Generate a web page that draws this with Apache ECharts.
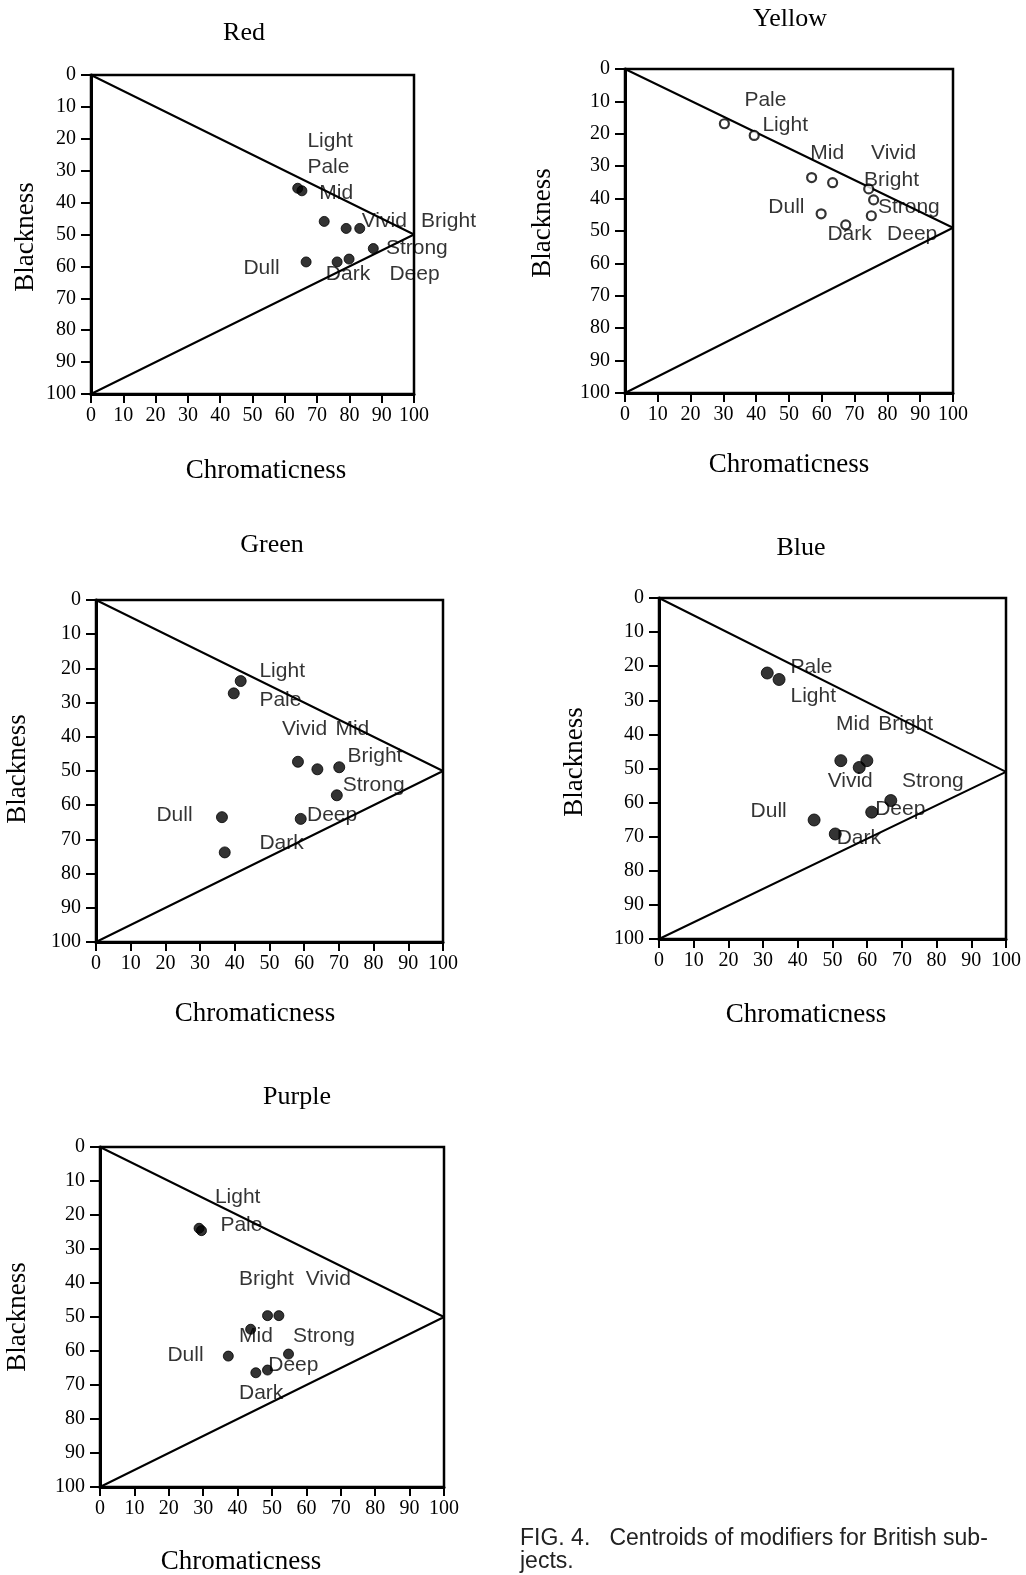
<!DOCTYPE html>
<html>
<head>
<meta charset="utf-8">
<script src="https://cdn.jsdelivr.net/npm/echarts@6/dist/echarts.min.js"></script>
<style>
  html, body { margin: 0; padding: 0; background: #fff; }
  #main { width: 1026px; height: 1575px; }
</style>
</head>
<body>
<div id="main"></div>
<script>
  // tick labels (both axes run 0..100 in steps of 10)
  var xTicks = [0, 10, 20, 30, 40, 50, 60, 70, 80, 90, 100];
  var yTicks = [0, 10, 20, 30, 40, 50, 60, 70, 80, 90, 100];

  var panelNames = ['Red', 'Yellow', 'Green', 'Blue', 'Purple'];
  // blackness at the right-hand apex of the triangle, read per panel
  var apexBlack = [50, 49, 50, 51, 50];

  // centroids: chromaticness / blackness
  var redChroma = [64.0, 65.3, 72.2, 79.0, 83.2, 87.4, 66.6, 76.2, 79.9];
  var redBlack = [35.5, 36.3, 45.9, 48.1, 48.1, 54.4, 58.6, 58.6, 57.7];
  var redTags = ['Light', 'Pale', 'Mid', 'Vivid', 'Bright', 'Strong', 'Dull', 'Dark', 'Deep'];
  var redTagX = [67.0, 67.0, 70.7, 83.8, 102.2, 91.3, 47.2, 72.7, 92.4];
  var redTagY = [20.6, 29.0, 37.1, 45.7, 45.7, 54.3, 60.5, 62.4, 62.4];

  var yellowChroma = [30.3, 39.4, 56.9, 63.3, 74.3, 75.8, 59.8, 67.3, 75.1];
  var yellowBlack = [16.9, 20.5, 33.5, 35.1, 37.0, 40.4, 44.7, 48.1, 45.3];
  var yellowTags = ['Pale', 'Light', 'Mid', 'Vivid', 'Bright', 'Strong', 'Dull', 'Dark', 'Deep'];
  var yellowTagX = [36.4, 41.9, 56.5, 75.0, 72.9, 77.1, 43.7, 61.7, 79.9];
  var yellowTagY = [9.5, 17.5, 26.0, 26.0, 34.2, 42.8, 42.7, 50.9, 50.9];

  var greenChroma = [41.7, 39.7, 58.2, 63.8, 70.1, 69.4, 36.3, 59.0, 37.1];
  var greenBlack = [23.7, 27.3, 47.3, 49.5, 48.9, 57.1, 63.5, 64.0, 73.8];
  var greenTags = ['Light', 'Pale', 'Vivid', 'Mid', 'Bright', 'Strong', 'Dull', 'Deep', 'Dark'];
  var greenTagX = [47.1, 47.1, 53.6, 69.0, 72.5, 71.1, 17.4, 60.8, 47.1];
  var greenTagY = [20.9, 29.4, 37.7, 37.7, 45.8, 54.2, 62.8, 62.8, 71.1];

  var blueChroma = [31.2, 34.6, 52.4, 59.9, 57.7, 66.8, 61.3, 44.7, 50.8];
  var blueBlack = [22.0, 23.9, 47.7, 47.7, 49.7, 59.4, 62.8, 65.1, 69.2];
  var blueTags = ['Pale', 'Light', 'Mid', 'Bright', 'Vivid', 'Strong', 'Dull', 'Deep', 'Dark'];
  var blueTagX = [37.9, 37.9, 51.0, 63.2, 48.6, 70.0, 26.4, 62.3, 51.2];
  var blueTagY = [20.4, 28.8, 37.1, 37.1, 53.7, 53.7, 62.6, 62.0, 70.4];

  var purpleChroma = [28.8, 29.5, 48.7, 52.0, 43.8, 54.8, 37.3, 45.3, 48.7];
  var purpleBlack = [23.9, 24.6, 49.6, 49.6, 53.6, 60.9, 61.5, 66.4, 65.6];
  var purpleTags = ['Light', 'Pale', 'Bright', 'Vivid', 'Mid', 'Strong', 'Dull', 'Deep', 'Dark'];
  var purpleTagX = [33.4, 35.0, 40.4, 59.8, 40.4, 56.1, 19.6, 48.9, 40.4];
  var purpleTagY = [14.7, 23.1, 38.8, 38.8, 55.6, 55.6, 61.2, 64.1, 72.5];

  var panels = [
    {chroma: redChroma, black: redBlack, tags: redTags, tagX: redTagX, tagY: redTagY},
    {chroma: yellowChroma, black: yellowBlack, tags: yellowTags, tagX: yellowTagX, tagY: yellowTagY},
    {chroma: greenChroma, black: greenBlack, tags: greenTags, tagX: greenTagX, tagY: greenTagY},
    {chroma: blueChroma, black: blueBlack, tags: blueTags, tagX: blueTagX, tagY: blueTagY},
    {chroma: purpleChroma, black: purpleBlack, tags: purpleTags, tagX: purpleTagX, tagY: purpleTagY}
  ];

  // layout of each panel (px)
  var layout = [
    {left: 91, top: 75, width: 323, height: 319, title: [244, 33], xName: [266, 471], yName: [26, 237], dot: 10},
    {left: 625, top: 69, width: 328, height: 324, title: [790, 19], xName: [789, 465], yName: [543, 223], dot: 9},
    {left: 96, top: 600, width: 347, height: 342, title: [272, 545], xName: [255, 1014], yName: [18, 769], dot: 11},
    {left: 659, top: 598, width: 347, height: 341, title: [801, 548], xName: [806, 1015], yName: [575, 762], dot: 12},
    {left: 100, top: 1147, width: 344, height: 340, title: [297, 1097], xName: [241, 1562], yName: [18, 1317], dot: 10}
  ];

  var serif = "'Liberation Serif', 'DejaVu Serif', serif";
  var sans = "'Liberation Sans', Arial, sans-serif";

  var chart = echarts.init(document.getElementById('main'), null, {renderer: 'canvas'});

  var grids = [], xAxes = [], yAxes = [], series = [], graphics = [];

  panels.forEach(function (p, i) {
    var L = layout[i];
    grids.push({
      left: L.left, top: L.top, width: L.width, height: L.height,
      show: true, borderColor: '#000', borderWidth: 2.5, backgroundColor: 'transparent'
    });
    xAxes.push({
      gridIndex: i, type: 'value', min: xTicks[0], max: xTicks[xTicks.length - 1], interval: 10,
      splitLine: {show: false},
      axisLine: {onZero: false, lineStyle: {color: '#000', width: 3}},
      axisTick: {length: 9, lineStyle: {color: '#000', width: 2}},
      axisLabel: {color: '#000', fontFamily: serif, fontSize: 20, margin: 12}
    });
    yAxes.push({
      gridIndex: i, type: 'value', inverse: true, min: yTicks[0], max: yTicks[yTicks.length - 1], interval: 10,
      splitLine: {show: false},
      axisLine: {onZero: false, lineStyle: {color: '#000', width: 3}},
      axisTick: {length: 10, lineStyle: {color: '#000', width: 2}},
      axisLabel: {color: '#000', fontFamily: serif, fontSize: 20, margin: 15}
    });

    // NCS triangle outline
    series.push({
      type: 'line', xAxisIndex: i, yAxisIndex: i, symbol: 'none', silent: true,
      lineStyle: {color: '#000', width: 2},
      data: [[0, 0], [100, apexBlack[i]], [0, 100]]
    });

    // centroids
    var pts = p.chroma.map(function (c, k) { return [c, p.black[k]]; });
    series.push({
      type: 'scatter', xAxisIndex: i, yAxisIndex: i, symbol: 'circle', symbolSize: L.dot,
      itemStyle: i === 1 ? {color: '#fff', borderColor: '#000', borderWidth: 2.2} : {color: '#000', borderColor: '#000', borderWidth: 1},
      data: pts, z: 3
    });

    // modifier names
    var tagPts = p.tags.map(function (t, k) { return {name: t, value: [p.tagX[k], p.tagY[k]]}; });
    series.push({
      type: 'scatter', xAxisIndex: i, yAxisIndex: i, symbolSize: 0, clip: false, silent: true,
      data: tagPts, z: 4,
      label: {
        show: true, position: 'right', distance: 0, formatter: '{b}',
        color: '#000', fontFamily: sans, fontSize: 21
      }
    });

    graphics.push({
      type: 'text', x: L.title[0], y: L.title[1],
      style: {text: panelNames[i], font: '26px ' + serif, fill: '#000', align: 'center', verticalAlign: 'middle', textAlign: 'center', textVerticalAlign: 'middle'}
    });
    graphics.push({
      type: 'text', x: L.xName[0], y: L.xName[1],
      style: {text: 'Chromaticness', font: '27px ' + serif, fill: '#000', align: 'center', verticalAlign: 'middle', textAlign: 'center', textVerticalAlign: 'middle'}
    });
    graphics.push({
      type: 'text', x: L.yName[0], y: L.yName[1], rotation: Math.PI / 2,
      style: {text: 'Blackness', font: '27px ' + serif, fill: '#000', align: 'center', verticalAlign: 'middle', textAlign: 'center', textVerticalAlign: 'middle'}
    });
  });

  // figure caption
  graphics.push({
    type: 'text', x: 520, y: 1527,
    style: {
      text: 'FIG. 4.   Centroids of modifiers for British sub-\njects.',
      font: '23px ' + sans, fill: '#222', lineHeight: 23
    }
  });

  chart.setOption({
    backgroundColor: '#fff',
    animation: false,
    grid: grids,
    xAxis: xAxes,
    yAxis: yAxes,
    series: series,
    graphic: graphics
  });
</script>
</body>
</html>
